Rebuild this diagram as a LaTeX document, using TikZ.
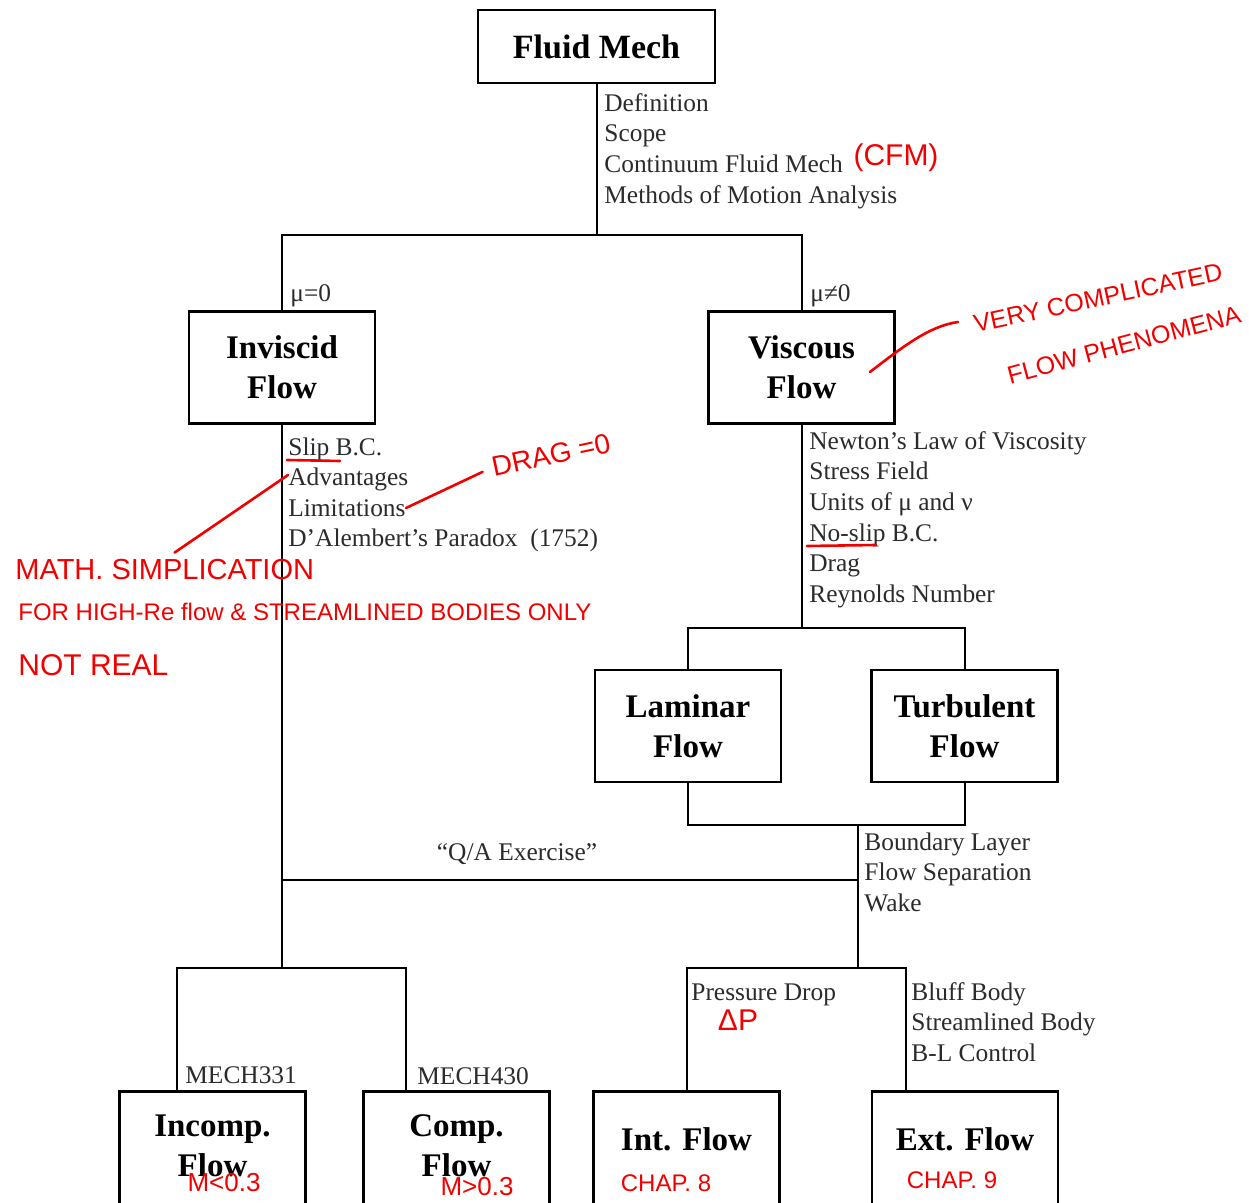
\documentclass[tikz,border=0pt]{standalone}
\usepackage{fontspec}
\setmainfont{Liberation Serif}
\newfontfamily\handfont{Liberation Sans}
\usetikzlibrary{calc}
\definecolor{inkred}{HTML}{F20000}
\definecolor{listgray}{HTML}{2B2B2B}

\begin{document}
\begin{tikzpicture}[x=0.5pt,y=-0.5pt,
  box/.style={draw,line width=1.4pt,minimum width=93pt,minimum height=56pt,align=center,inner sep=0pt,font=\bfseries\fontsize{16.5}{20}\selectfont},
  cutbox/.style={box,anchor=north,minimum height=64pt},
  wire/.style={line width=1pt},
  list/.style={anchor=north west,align=left,inner sep=0pt,text=listgray,font=\fontsize{12.7}{15.3}\selectfont},
  note/.style={text=inkred,inner sep=0pt,font=\handfont\fontsize{#1}{#1}\selectfont},
  note/.default=14,
  ink/.style={inkred,line width=1.3pt,line cap=round}
]
\path[use as bounding box,fill=white] (0,0) rectangle (1249,1203);

\node[box,minimum width=118.5pt,minimum height=36.5pt,font=\bfseries\fontsize{17}{20}\selectfont] (fm) at (596.5,46.5) {Fluid Mech};
\node[box] (inv) at (282,367.5) {Inviscid\\Flow};
\node[box] (visc) at (801.5,367.5) {Viscous\\Flow};
\node[box] (lam) at (688,726) {Laminar\\Flow};
\node[box] (turb) at (964.5,726) {Turbulent\\Flow};
\node[cutbox,text depth=10pt] (inc) at (212.5,1090) {Incomp.\\Flow};
\node[cutbox,text depth=10pt] (comp) at (456.5,1090) {Comp.\\Flow};
\node[cutbox,text depth=16pt] (intf) at (686.5,1090) {Int. Flow};
\node[cutbox,text depth=16pt] (extf) at (965,1090) {Ext. Flow};

\coordinate (top) at (596.5,235);
\coordinate (lsplit) at (282,880);
\coordinate (rsplit) at (858,880);
\coordinate (lbot) at (282,968);
\coordinate (vsplit) at (801.5,628);
\coordinate (lt) at (858,825);
\coordinate (rbot) at (858,968);

\draw[wire] (fm) -- (top);
\draw[wire] (inv.north) |- (top) -| (visc.north);
\draw[wire] (inv) -- (lbot);
\draw[wire] (visc) -- (vsplit);
\draw[wire] (lam.north) |- (vsplit) -| (turb.north);
\draw[wire] (lam.south) |- (lt) -| (turb.south);
\draw[wire] (lt) -- (rbot);
\draw[wire] (lsplit) -- (rsplit);
\draw[wire] ($(inc.north west)+(59,0)$) |- (lbot) -| ($(comp.north west)+(44,0)$);
\draw[wire] (intf.north) |- (rbot) -| ($(extf.north west)+(35,0)$);

\node[list] (fmlist) at (604,93) {Definition\\Scope\\Continuum Fluid Mech\\Methods of Motion Analysis};
\node[list] (mu0) at (290,284) {μ=0};
\node[list] (mu1) at (810,284) {μ≠0};
\node[list] (invlist) at (288,437) {Slip B.C.\\Advantages\\Limitations\\D’Alembert’s Paradox~~(1752)};
\node[list] (visclist) at (809,431) {Newton’s Law of Viscosity\\Stress Field\\Units of μ and ν\\No-slip B.C.\\Drag\\Reynolds Number};
\node[list] (bllist) at (864,832) {Boundary Layer\\Flow Separation\\Wake};
\node[list,anchor=center] (qa) at (517,854) {“Q/A Exercise”};
\node[list] (pdrop) at (691,983) {Pressure Drop};
\node[list] (bodylist) at (911,982) {Bluff Body\\Streamlined Body\\B-L Control};
\node[list] (m331) at (185,1066) {MECH331};
\node[list] (m430) at (417,1067) {MECH430};

\node[note=12.5,rotate=12] (vc) at (1098,298) {VERY COMPLICATED};
\node[note=12.5,rotate=15] (fp) at (1124,345) {FLOW PHENOMENA};
\node[note=15] (cfm) at (896,158) {(CFM)};
\node[note=14,rotate=12] (drag) at (551,455) {DRAG =0};
\node[note=14.5,anchor=west] (math) at (15,570) {MATH. SIMPLICATION};
\node[note=12,anchor=west] (high) at (18,612) {FOR HIGH-Re flow \& STREAMLINED BODIES ONLY};
\node[note=15,anchor=west] (real) at (18,665) {NOT REAL};
\node[note=15] (dp) at (738,1020) {ΔP};
\node[note=13] (mless) at (224,1183) {M<0.3};
\node[note=13] (mmore) at (477,1187) {M>0.3};
\node[note=12] (ch8) at (666,1183) {CHAP. 8};
\node[note=12] (ch9) at (952,1180) {CHAP. 9};

\coordinate (visctip) at (870,372);
\coordinate (vctail) at (958,322);
\coordinate (limend) at (406,508);
\coordinate (advstart) at (288,475);
\draw[ink] (visctip) .. controls (905,345) and (930,326) .. (vctail);
\draw[ink,shorten >=5pt] (limend) -- (drag.west);
\draw[ink,shorten >=6pt] (advstart) -- (math.north);
\draw[ink] (287,460) -- (340,461);
\draw[ink] (807,546) -- (876,545);
\end{tikzpicture}
\end{document}
